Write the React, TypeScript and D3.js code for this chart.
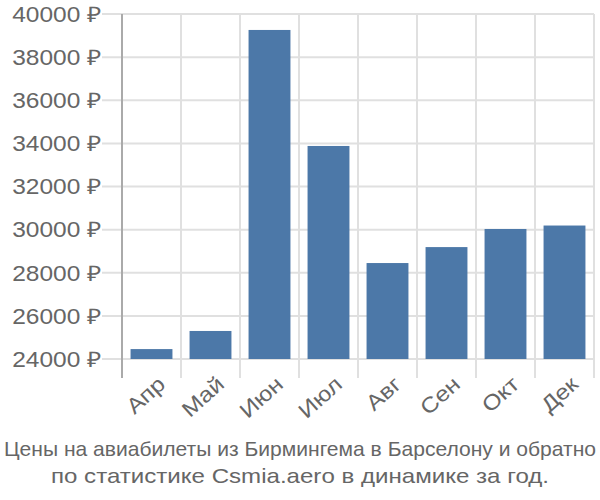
import React from "react";
import * as d3 from "d3";

const months = ["Апр", "Май", "Июн", "Июл", "Авг", "Сен", "Окт", "Дек"];
const prices = [24460, 25300, 39260, 33880, 28450, 29190, 30030, 30190];
const yTicks = [24000, 26000, 28000, 30000, 32000, 34000, 36000, 38000, 40000];
const titleLines = [
  "Цены на авиабилеты из Бирмингема в Барселону и обратно",
  "по статистике Csmia.aero в динамике за год.",
];

export default function App() {
  const W = 600, H = 500;
  const left = 122, right = 594, top = 14, bottom = 359;
  const x = d3.scaleBand<string>().domain(months).range([left, right]).paddingInner(0.29).paddingOuter(0.145);
  const step = (right - left) / months.length;
  const y = d3.scaleLinear().domain([24000, 40000]).range([bottom, top]);
  const font = "'Liberation Sans', Arial, sans-serif";
  return (
    <svg width={W} height={H} style={{ position: "absolute", left: 0, top: 0 }} fontFamily={font}>
      {yTicks.map((t) => (
        <g key={t}>
          <line x1={102} x2={right} y1={y(t)} y2={y(t)} stroke="#e0e0e0" strokeWidth={2} />
          <text transform={`translate(101,${y(t)}) scale(1.14,1)`} dy="0.36em" textAnchor="end" fontSize={21.5} fill="#666">{`${t} ₽`}</text>
        </g>
      ))}
      {months.map((m, i) => (
        <line key={m} x1={left + step * (i + 1)} x2={left + step * (i + 1)} y1={top} y2={378} stroke="#e0e0e0" strokeWidth={2} />
      ))}
      <line x1={left} x2={left} y1={top} y2={378} stroke="#aaa" strokeWidth={2} />
      {months.map((m, i) => (
        <rect key={m} x={x(m)} y={y(prices[i])} width={x.bandwidth()} height={bottom - y(prices[i])} fill="#4c78a8" />
      ))}
      {months.map((m) => {
        const cx = (x(m) as number) + x.bandwidth() / 2 + 5;
        return (
          <text key={m} transform={`translate(${cx},${375}) rotate(-42) scale(1.14,1)`} textAnchor="end" fontSize={21.5} fill="#666" dy="0.7em">{m}</text>
        );
      })}
      {titleLines.map((l, i) => (
        <text key={i} x={W / 2} y={456 + i * 27} textAnchor="middle" fontSize={21} fill="#666"
          textLength={i === 0 ? 592 : 498} lengthAdjust="spacingAndGlyphs">{l}</text>
      ))}
    </svg>
  );
}
